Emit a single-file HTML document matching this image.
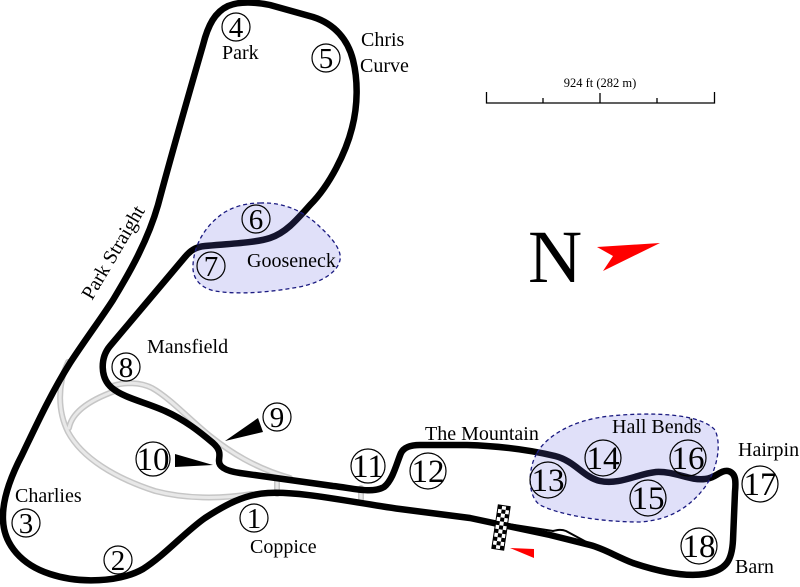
<!DOCTYPE html>
<html><head><meta charset="utf-8"><style>
html,body{margin:0;padding:0;background:#fff;}
svg{display:block;}
text{font-family:"Liberation Serif",serif;fill:#000;}
</style></head><body>
<svg width="800" height="587" viewBox="0 0 800 587" xmlns="http://www.w3.org/2000/svg">
<defs>
<pattern id="chk" x="-6" y="-22" width="8" height="8" patternUnits="userSpaceOnUse">
<rect width="8" height="8" fill="#fff"/><rect width="4" height="4" fill="#000"/><rect x="4" y="4" width="4" height="4" fill="#000"/>
</pattern>
</defs>
<rect width="800" height="587" fill="#fff"/>

<!-- grey service roads -->
<g fill="none" stroke-linecap="round" stroke-linejoin="round">
<g stroke="#c6c6c6" stroke-width="6">
<path d="M68,362 C57,385 58,412 68,432 C82,458 115,478 155,491 C185,499 220,499 252,494"/>
<path d="M69,428 C72,412 90,400 115,391"/>
<path d="M112,386 C125,382 140,382 152,388 C170,398 190,420 210,436 C230,452 255,468 290,478"/>
<path d="M277,477 L277,494"/>
<path d="M361,488 L361,499"/>
</g>
<g stroke="#e8e8e8" stroke-width="3">
<path d="M68,362 C57,385 58,412 68,432 C82,458 115,478 155,491 C185,499 220,499 252,494"/>
<path d="M69,428 C72,412 90,400 115,391"/>
<path d="M112,386 C125,382 140,382 152,388 C170,398 190,420 210,436 C230,452 255,468 290,478"/>
<path d="M277,477 L277,494"/>
<path d="M361,488 L361,499"/>
</g>
</g>

<!-- pit lane -->
<path d="M508,524 L553,531 C557,530 561,529 566,531 L592,545" fill="none" stroke="#000" stroke-width="2" stroke-linejoin="round"/>

<!-- main track -->
<path fill="none" stroke="#000" stroke-width="6.5" stroke-linejoin="round" stroke-linecap="round" d="
M470,518 L400,509
C350,502 300,491 268,493
C245,494 225,505 205,518
C185,532 165,555 143,569
C120,582 80,584 50,574
C22,565 4,545 3,520
C2,500 10,478 22,455
C35,428 50,395 70,363
C85,340 100,320 113,300
C130,272 148,240 158,205
C170,160 190,90 203,45
C208,25 215,12 228,6
C240,1 255,2 270,5
L313,17
C335,24 348,40 353,60
C358,80 358,105 352,128
C346,152 330,185 310,205
C295,222 285,233 270,238
C255,243 225,244 205,246
C195,247 190,251 185,257
L110,346
C100,358 100,378 112,388
C124,398 145,402 165,411
C185,420 200,432 213,443
C222,451 219,456 219,461
C219,467 226,471 240,473
L333,486
C352,488 372,494 384,487
C393,480 397,462 401,453
C404,447 411,445 420,445
L467,445
C500,446 530,450 555,456
C575,461 583,477 600,481
C620,485 637,474 656,472
C675,471 690,481 705,479
C716,478 720,470 728,471
C736,473 736,481 735,492
L733,540
C732,560 727,570 705,574
C685,577 660,572 633,563
C615,556 605,549 590,545
L550,535 L470,518 Z"/>

<!-- highlighted areas -->
<g fill="rgba(100,100,225,0.2)" stroke="#1a1a80" stroke-width="1.3" stroke-dasharray="4,3">
<path d="M260,203 C285,202 305,212 320,227 C332,238 342,250 340,260 C337,275 315,285 293,288 C270,292 240,295 215,291 C200,288 192,278 193,265 C194,245 205,225 225,212 C237,205 250,203 260,203 Z"/>
<path d="M537,453 C545,438 570,420 610,416 C650,412 700,413 715,430 C722,445 717,470 705,487 C690,507 670,520 640,522 C600,522 560,515 540,505 C528,497 527,470 537,453 Z"/>
</g>

<!-- start/finish flag -->
<g transform="translate(501,527.5) rotate(8.5)">
<rect x="-6" y="-22" width="12" height="44" fill="url(#chk)" stroke="#000" stroke-width="1"/>
</g>
<polygon points="510,548 534,549 534,558" fill="#f00"/>

<!-- corner circles -->
<g fill="none" stroke="#000" stroke-width="1.2">
<circle cx="254" cy="518" r="14"/>
<circle cx="118" cy="560" r="14"/>
<circle cx="26" cy="523" r="14"/>
<circle cx="236" cy="27" r="14"/>
<circle cx="326" cy="58" r="14"/>
<circle cx="256" cy="219" r="14"/>
<circle cx="211" cy="266" r="14"/>
<circle cx="126" cy="367" r="14"/>
<circle cx="277" cy="417" r="14"/>
<circle cx="153" cy="459" r="17"/>
<circle cx="368" cy="466" r="17"/>
<circle cx="428" cy="471" r="18"/>
<circle cx="548" cy="480" r="18"/>
<circle cx="603" cy="458" r="18"/>
<circle cx="648" cy="498" r="18"/>
<circle cx="688" cy="458" r="18"/>
<circle cx="760" cy="484" r="18"/>
<circle cx="699" cy="546" r="18"/>
</g>
<g font-size="29" text-anchor="middle">
<text x="254" y="528">1</text>
<text x="118" y="570">2</text>
<text x="26" y="533">3</text>
<text x="236" y="37">4</text>
<text x="326" y="68">5</text>
<text x="256" y="229">6</text>
<text x="211" y="276">7</text>
<text x="126" y="377">8</text>
<text x="277" y="427">9</text>
</g>
<g font-size="33" text-anchor="middle">
<text x="153" y="470">10</text>
<text x="368" y="477">11</text>
<text x="428" y="482">12</text>
<text x="548" y="491">13</text>
<text x="603" y="469">14</text>
<text x="648" y="509">15</text>
<text x="688" y="469">16</text>
<text x="760" y="495">17</text>
<text x="699" y="557">18</text>
</g>

<!-- pointer arrows -->
<polygon points="225,441 258,418 263,432" fill="#000"/>
<polygon points="175,454 175,467 213,465" fill="#000"/>

<!-- labels -->
<g font-size="20">
<text x="222" y="59">Park</text>
<text x="361" y="46">Chris</text>
<text x="360" y="72">Curve</text>
<text x="247" y="267">Gooseneck</text>
<text x="147" y="353">Mansfield</text>
<text x="15" y="502">Charlies</text>
<text x="250" y="553">Coppice</text>
<text x="425" y="440">The Mountain</text>
<text x="612" y="433">Hall Bends</text>
<text x="738" y="456">Hairpin</text>
<text x="735" y="573">Barn</text>
<text transform="translate(92,301) rotate(-59.5)">Park Straight</text>
</g>

<!-- scale bar -->
<text x="600" y="87" font-size="12.5" text-anchor="middle">924 ft (282 m)</text>
<path d="M486.5,92 V103 H714.5 V92 M543,98 V103 M600,93 V103 M657,98 V103" fill="none" stroke="#000" stroke-width="1.3"/>

<!-- north -->
<text x="528" y="282" font-size="75">N</text>
<polygon points="597,247 660,243 603,271 613,256" fill="#f00"/>
</svg>
</body></html>
